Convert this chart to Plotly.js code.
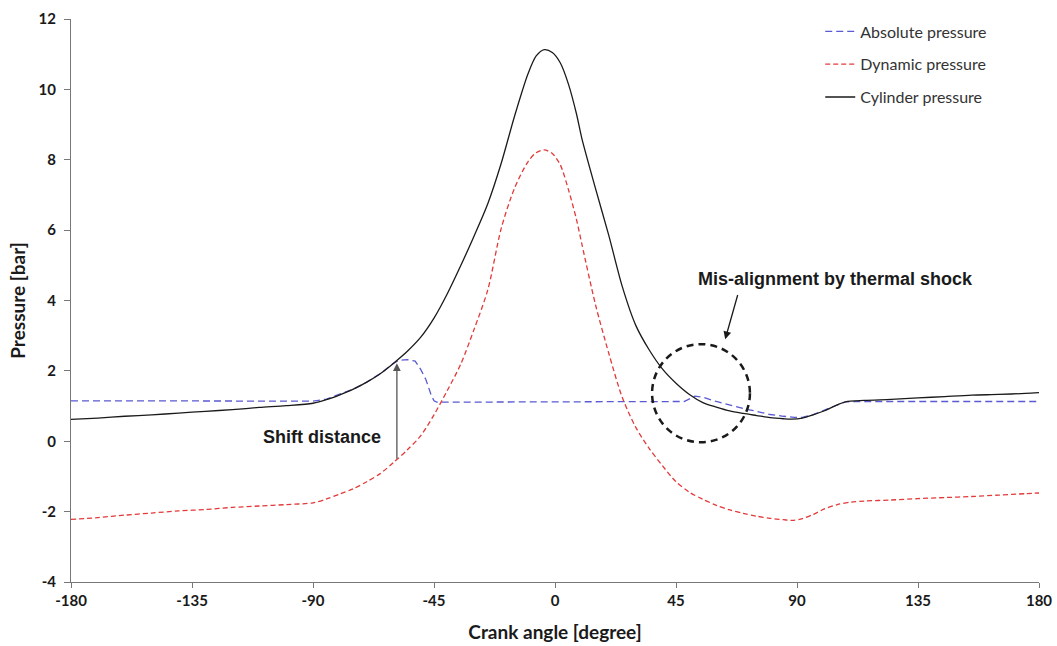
<!DOCTYPE html>
<html>
<head>
<meta charset="utf-8">
<script src="https://cdn.plot.ly/plotly-3.0.1.min.js"></script>
<style>html,body{margin:0;padding:0;background:#fff;}#chart{width:1057px;height:646px;}</style>
</head>
<body>
<div id="chart"></div>
<script>
// Cylinder pressure (black solid)
const cylAngle = [-180,-170,-160,-150,-140,-130,-120,-110,-100,-90,-85,-80,-75,-70,-65,-60,-55,-50,-45,-40,-35,-30,-25,-20,-15,-10,-7,-4,-1,2,5,8,10,15,20,25,30,35,40,45,50,55,60,65,70,75,80,85,88,92,96,100,104,108,115,125,135,145,155,165,175,180];
const cylPressure = [0.62,0.66,0.71,0.75,0.80,0.85,0.90,0.96,1.01,1.08,1.18,1.32,1.48,1.68,1.92,2.22,2.55,2.95,3.5,4.2,5.0,5.85,6.75,7.9,9.25,10.45,10.95,11.13,11.05,10.75,10.15,9.3,8.6,7.2,5.85,4.4,3.3,2.6,2.05,1.65,1.33,1.1,0.97,0.86,0.79,0.73,0.67,0.64,0.63,0.66,0.75,0.86,1.0,1.12,1.16,1.19,1.23,1.27,1.31,1.33,1.36,1.38];

// Absolute pressure (blue dashed)
const absAngle = [-180,-150,-120,-100,-90,-85,-80,-75,-70,-65,-60,-58,-55,-52,-50,-48,-46,-45,-44,-30,0,30,48,52,55,60,65,70,75,80,85,89,92,96,100,104,108,115,180];
const absPressure = [1.15,1.15,1.14,1.14,1.14,1.2,1.33,1.48,1.68,1.92,2.22,2.3,2.32,2.28,2.05,1.75,1.3,1.15,1.11,1.11,1.12,1.12,1.13,1.28,1.25,1.13,1.02,0.93,0.85,0.76,0.71,0.68,0.68,0.76,0.88,1.0,1.12,1.13,1.13];

// Dynamic pressure (red dashed)
const dynAngle = [-180,-170,-160,-150,-140,-130,-120,-110,-100,-90,-85,-80,-75,-70,-65,-60,-55,-50,-45,-40,-35,-30,-25,-20,-15,-10,-7,-4,-1,2,5,8,10,15,20,25,30,35,40,45,50,55,60,65,70,75,80,85,88,92,96,100,105,110,115,125,135,145,155,165,175,180];
const dynPressure = [-2.22,-2.17,-2.1,-2.04,-1.98,-1.94,-1.88,-1.84,-1.8,-1.75,-1.64,-1.5,-1.35,-1.15,-0.92,-0.6,-0.25,0.15,0.75,1.45,2.2,3.2,4.3,6.05,7.2,7.95,8.2,8.28,8.18,7.85,7.15,6.3,5.6,3.9,2.5,1.25,0.4,-0.2,-0.7,-1.15,-1.45,-1.65,-1.82,-1.95,-2.05,-2.13,-2.19,-2.23,-2.25,-2.2,-2.08,-1.93,-1.8,-1.73,-1.7,-1.67,-1.63,-1.6,-1.57,-1.53,-1.49,-1.47];

const xTicks = [-180,-135,-90,-45,0,45,90,135,180];
const yTicks = [-4,-2,0,2,4,6,8,10,12];

const traces = [
  {x: absAngle, y: absPressure, name: 'Absolute pressure', mode: 'lines', legendgroup: 'a',
   line: {color: '#5a5ad2', width: 1.3, dash: '7px,4px'}},
  {x: dynAngle, y: dynPressure, name: 'Dynamic pressure', mode: 'lines', legendgroup: 'b',
   line: {color: '#e23a3a', width: 1.3, dash: '5px,3px', shape: 'spline', smoothing: 0.8}},
  {x: cylAngle, y: cylPressure, name: 'Cylinder pressure', mode: 'lines', legendgroup: 'c',
   line: {color: '#1a1a1a', width: 1.3, shape: 'spline', smoothing: 0.8}}
];

const tickFont = {family: 'Lato, "Open Sans", sans-serif', size: 15, color: '#1a1a1a', weight: 'bold'};
const annFont = {family: '"Liberation Sans", Arial, sans-serif', size: 18, color: '#1a1a1a', weight: 'bold'};

const layout = {
  width: 1057, height: 646,
  margin: {l: 71, r: 18, t: 19, b: 64},
  paper_bgcolor: '#ffffff', plot_bgcolor: '#ffffff',
  showlegend: true,
  legend: {x: 0.774, y: 1.008, xanchor: 'left', yanchor: 'top', bgcolor: 'rgba(0,0,0,0)',
           font: {family: 'Lato, "Open Sans", sans-serif', size: 16, color: '#333'},
           traceorder: 'grouped', tracegroupgap: 9, itemwidth: 30},
  xaxis: {range: [-180, 180], tickvals: xTicks, ticktext: xTicks.map(String), showgrid: false, zeroline: false,
          showline: true, linecolor: '#777', linewidth: 1, ticks: 'outside', ticklen: 5, tickcolor: '#777',
          tickfont: tickFont,
          title: {text: 'Crank angle [degree]', font: {family: 'Lato, "Open Sans", sans-serif', size: 19, color: '#1a1a1a', weight: 'bold'}, standoff: 17}},
  yaxis: {range: [-4, 12], tickvals: yTicks, ticktext: yTicks.map(String), showgrid: false, zeroline: false,
          showline: true, linecolor: '#777', linewidth: 1, ticks: 'outside', ticklen: 6, tickcolor: '#777',
          tickfont: tickFont, ticklabelstandoff: 5,
          title: {text: 'Pressure [bar]', font: {family: 'Lato, "Open Sans", sans-serif', size: 19, color: '#1a1a1a', weight: 'bold'}, standoff: 7}},
  shapes: [
    {type: 'circle', xref: 'x', yref: 'y', x0: 36.1, x1: 72.5, y0: -0.03, y1: 2.76,
     line: {color: '#1a1a1a', width: 2.5, dash: '7px,5px'}}
  ],
  annotations: [
    {x: -58.8, y: 2.22, ax: -58.8, ay: -0.54, xref: 'x', yref: 'y', axref: 'x', ayref: 'y',
     text: '', showarrow: true, arrowhead: 2, arrowsize: 1.2, arrowwidth: 1.3, arrowcolor: '#555'},
    {x: -86.5, y: 0.12, xref: 'x', yref: 'y', text: 'Shift distance', showarrow: false, font: annFont},
    {x: 63.3, y: 2.9, ax: 68.1, ay: 4.2, xref: 'x', yref: 'y', axref: 'x', ayref: 'y',
     text: '', showarrow: true, arrowhead: 2, arrowsize: 1.2, arrowwidth: 1.3, arrowcolor: '#1a1a1a'},
    {x: 104.5, y: 4.62, xref: 'x', yref: 'y', text: 'Mis-alignment by thermal shock', showarrow: false, font: annFont}
  ]
};

Plotly.newPlot('chart', traces, layout, {displayModeBar: false, staticPlot: true});
</script>
</body>
</html>
